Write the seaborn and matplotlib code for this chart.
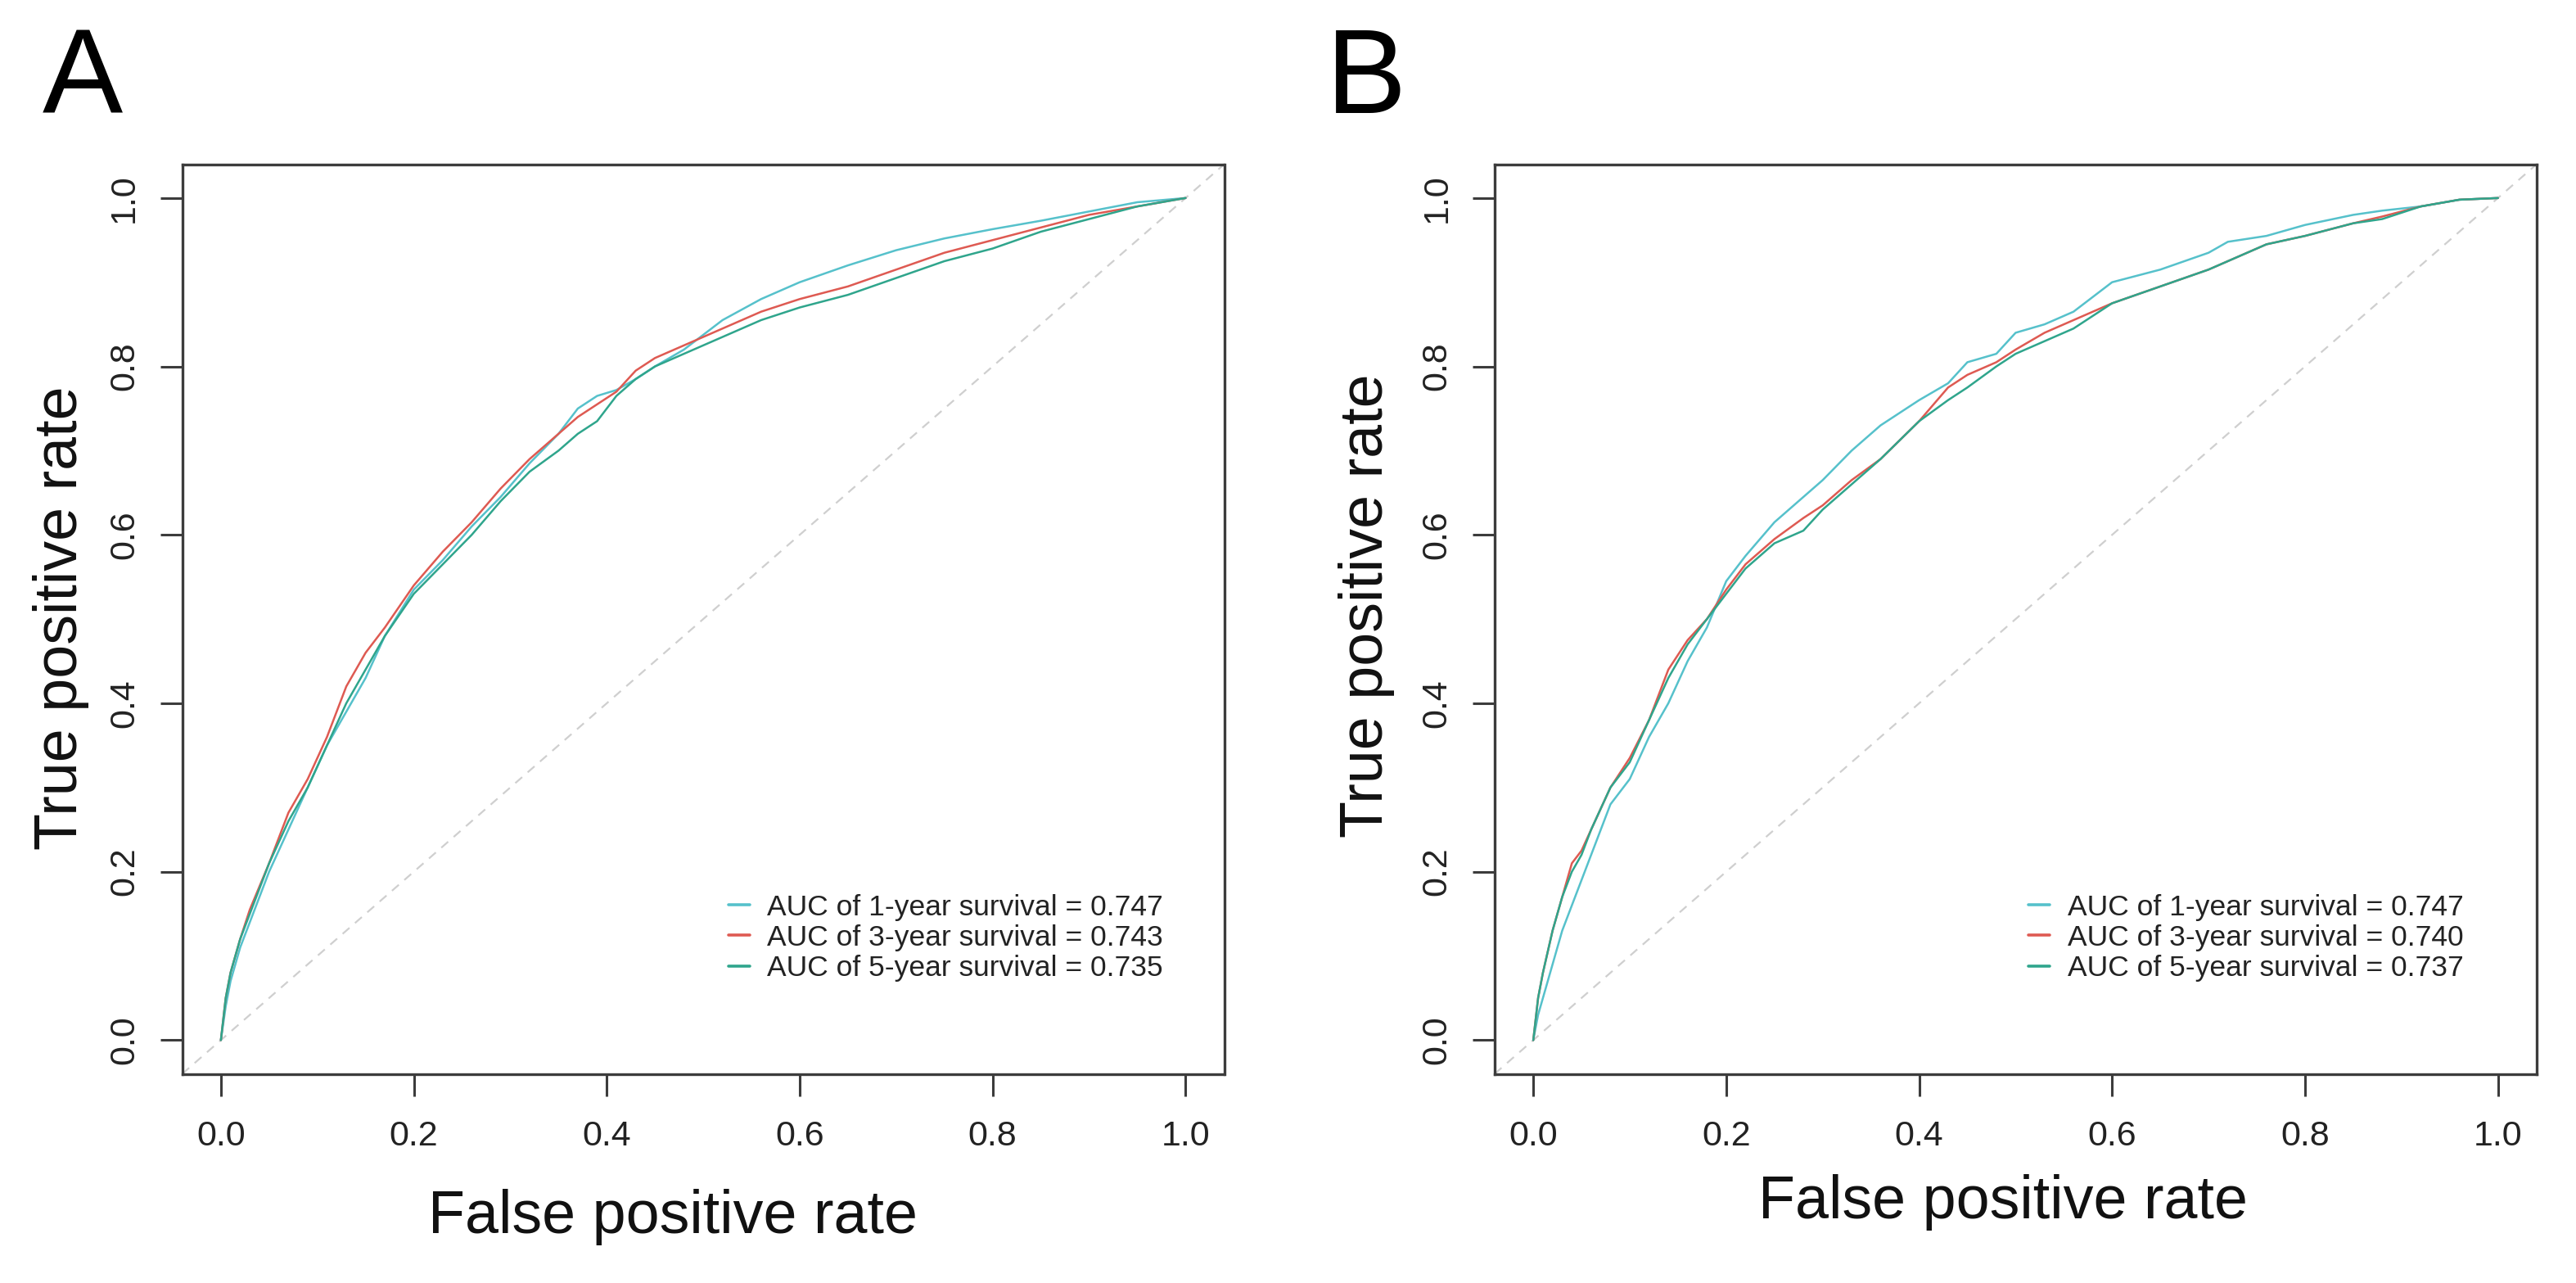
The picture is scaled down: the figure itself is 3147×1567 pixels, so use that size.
import numpy as np
import pandas as pd
import matplotlib
matplotlib.use("Agg")
import matplotlib.pyplot as plt
import seaborn as sns

# ---------------- data ----------------
series_names = ["1-year", "3-year", "5-year"]
colors = ["#56C1CB", "#DE5A52", "#2FA58C"]

# Panel A
a_fpr = [0, .005, .01, .02, .03, .05, .07, .09, .11, .13, .15, .17, .20, .23, .26, .29, .32, .35, .37, .39,
         .41, .43, .45, .48, .52, .56, .60, .65, .70, .75, .80, .85, .90, .95, 1.0]
a_tpr_1 = [0, .04, .07, .11, .14, .20, .25, .30, .35, .39, .43, .48, .535, .57, .61, .645, .685, .72, .75, .765,
           .772, .785, .80, .82, .855, .88, .90, .92, .938, .952, .963, .973, .984, .995, 1]
a_tpr_3 = [0, .05, .08, .12, .155, .21, .27, .31, .36, .42, .46, .49, .54, .58, .615, .655, .69, .72, .74, .755,
           .77, .795, .81, .825, .845, .865, .88, .895, .915, .935, .95, .965, .98, .99, 1]
a_tpr_5 = [0, .05, .08, .12, .15, .21, .26, .30, .35, .40, .44, .48, .53, .565, .60, .64, .675, .70, .72, .735,
           .765, .785, .80, .815, .835, .855, .87, .885, .905, .925, .94, .96, .975, .99, 1]
a_auc = ["0.747", "0.743", "0.735"]

# Panel B
b_fpr = [0, .005, .01, .02, .03, .04, .05, .06, .08, .10, .12, .14, .16, .18, .20, .22, .25, .28, .30, .33,
         .36, .40, .43, .45, .48, .50, .53, .56, .60, .65, .70, .72, .76, .80, .85, .88, .92, .96, 1]
b_tpr_1 = [0, .03, .05, .09, .13, .16, .19, .22, .28, .31, .36, .40, .45, .49, .545, .575, .615, .645, .665, .70,
           .73, .76, .78, .805, .815, .84, .85, .865, .90, .915, .935, .948, .955, .968, .98, .985, .99, .998, 1]
b_tpr_3 = [0, .05, .08, .13, .17, .21, .225, .25, .30, .335, .38, .44, .475, .50, .535, .565, .595, .62, .635, .665,
           .69, .735, .775, .79, .805, .82, .84, .855, .875, .895, .915, .925, .945, .955, .97, .978, .99, .998, 1]
b_tpr_5 = [0, .05, .08, .13, .17, .20, .22, .25, .30, .33, .38, .43, .47, .50, .53, .56, .59, .605, .63, .66,
           .69, .735, .76, .775, .80, .815, .83, .845, .875, .895, .915, .925, .945, .955, .97, .975, .99, .998, 1]
b_auc = ["0.747", "0.740", "0.737"]

ticks = [0.0, 0.2, 0.4, 0.6, 0.8, 1.0]
tick_labels = ["0.0", "0.2", "0.4", "0.6", "0.8", "1.0"]

# ---------------- style ----------------
sns.set_theme(style="ticks")
plt.rcParams["font.family"] = ["Liberation Sans", "DejaVu Sans"]

W, H = 3147, 1567
DPI = 100
fig = plt.figure(figsize=(W / DPI, H / DPI), dpi=DPI)
fig.patch.set_facecolor("white")

frame_col = "#3c3c3c"


def panel(rect, fpr, curves, aucs, letter, letter_x, xlab_pos, ylab_pos, leg_pos):
    ax = fig.add_axes(rect)
    rows = []
    for name, tpr in zip(series_names, curves):
        for x, y in zip(fpr, tpr):
            rows.append({"fpr": x, "tpr": y, "series": name})
    df = pd.DataFrame(rows)
    ax.axline((0, 0), (1, 1), color="#CFCFCF", lw=1.6, ls=(0, (5, 4)), zorder=1)
    sns.lineplot(data=df, x="fpr", y="tpr", hue="series", palette=colors,
                 estimator=None, sort=False, lw=1.8, ax=ax, legend=False, zorder=3)
    ax.set_xlim(-0.04, 1.04)
    ax.set_ylim(-0.04, 1.04)
    ax.set_xticks(ticks)
    ax.set_xticklabels(tick_labels)
    ax.set_yticks(ticks)
    ax.set_yticklabels(tick_labels, rotation=90, va="center")
    for sp in ax.spines.values():
        sp.set_visible(True)
        sp.set_color(frame_col)
        sp.set_linewidth(2.4)
    ax.tick_params(axis="both", direction="out", length=19.5, width=2.2, color=frame_col,
                   labelsize=31, labelcolor="#222222")
    ax.tick_params(axis="x", pad=21)
    ax.tick_params(axis="y", pad=17)
    ax.set_facecolor("white")
    ax.grid(False)

    ax.set_xlabel("False positive rate", fontsize=53, color="#111111", va="baseline")
    ax.xaxis.set_label_coords(*xlab_pos)
    ax.set_ylabel("True positive rate", fontsize=53, color="#111111", va="baseline",
                  rotation=90, rotation_mode="anchor")
    ax.yaxis.set_label_coords(*ylab_pos)

    handles = ax.get_lines()[1:4]
    labels = [f"AUC of {n} survival = {v}" for n, v in zip(series_names, aucs)]
    leg = ax.legend(handles, labels, loc="upper left", bbox_to_anchor=leg_pos,
                    frameon=False, fontsize=25.5, handlelength=0.72, handletextpad=0.62,
                    labelspacing=0.12, borderpad=0, borderaxespad=0)
    for t in leg.get_texts():
        t.set_color("#222222")
    for l in leg.get_lines():
        l.set_linewidth(2.6)

    fig.text(letter_x / W, 1 - 138 / H, letter, fontsize=106, ha="left", va="baseline", color="black")
    return ax


axw = 1272.8 / W
axh = 1110.8 / H
axb = 1 - 1311.5 / H

panel([222.7 / W, axb, axw, axh], a_fpr, [a_tpr_1, a_tpr_3, a_tpr_5], a_auc, "A", 52,
      (0.4709, -0.1752), (-0.1011, 0.501), (0.5243, 0.198))
panel([1826 / W, axb, axw, axh], b_fpr, [b_tpr_1, b_tpr_3, b_tpr_5], b_auc, "B", 1620,
      (0.488, -0.159), (-0.1077, 0.5145), (0.5125, 0.198))

fig.savefig("out.png", dpi=DPI, facecolor="white")
